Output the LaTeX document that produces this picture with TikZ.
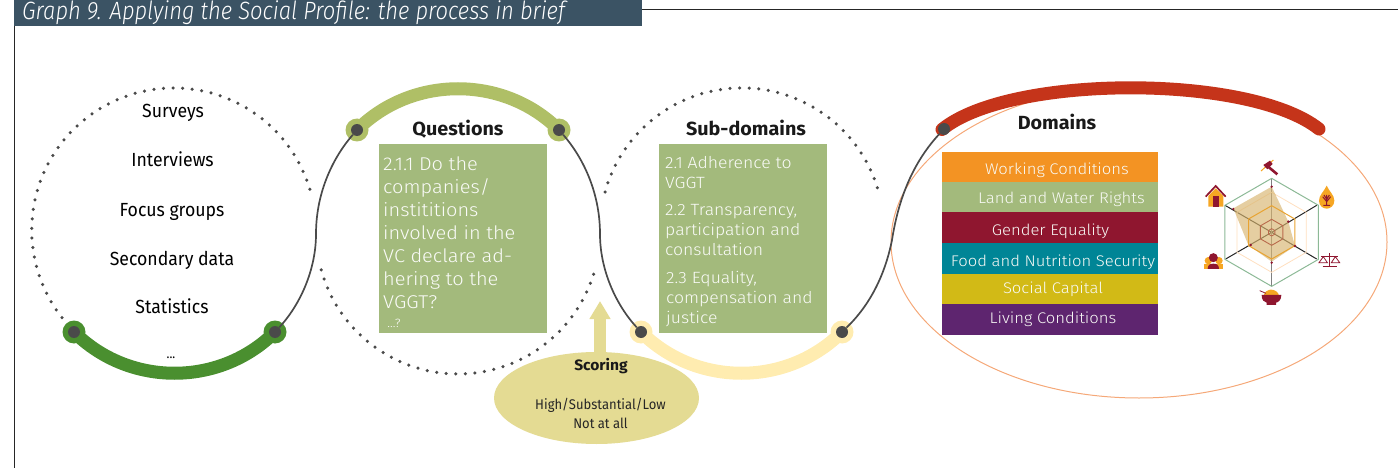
\documentclass[tikz,border=0pt]{standalone}
\usepackage{fontspec}
\setmainfont{Fira Sans}
\newfontfamily\lbl[FakeStretch=0.93]{Fira Sans}
\newfontfamily\boxf[FakeStretch=1.08]{Fira Sans Light}
\newfontfamily\headf[FakeStretch=1.04]{Fira Sans}
\newfontfamily\ttl[FakeStretch=0.88]{Fira Sans Light Italic}
\usetikzlibrary{shapes.geometric,arrows.meta}
\definecolor{ink}{HTML}{4A4A4A}
\definecolor{bar}{HTML}{3B5364}
\definecolor{cgreen}{HTML}{4A8F2F}
\definecolor{colive}{HTML}{AFBF66}
\definecolor{cyell}{HTML}{FFECB0}
\definecolor{cred}{HTML}{C5341A}
\definecolor{boxg}{HTML}{A3BA7C}
\definecolor{score}{HTML}{E4DB93}
\definecolor{peach}{HTML}{F5A878}
\definecolor{wine}{HTML}{8F162F}
\definecolor{amber}{HTML}{F6A623}
\definecolor{rorange}{HTML}{F39323}
\definecolor{rteal}{HTML}{008596}
\definecolor{ryellow}{HTML}{D2BA16}
\definecolor{rpurple}{HTML}{5E256F}
\definecolor{tan}{HTML}{D7B46E}
\definecolor{hexg}{HTML}{8CB996}
\definecolor{hexo}{HTML}{E8A332}
\definecolor{hexb}{HTML}{B9694B}
\tikzset{
  x=1pt,y=-1pt,
  hub/.style={circle,fill=ink,inner sep=0pt,minimum size=12pt},
  halo/.style={circle,inner sep=0pt,minimum size=23pt},
  band/.style={line width=13pt},
  link/.style={draw=ink,line width=1.7pt},
  dots/.style={draw=ink,line width=3.5pt,line cap=round,dash pattern=on 0pt off 9.6pt},
  srctext/.style={font=\lbl\fontsize{19}{19}\selectfont,text=black,inner sep=0pt,anchor=base},
  head/.style={font=\headf\bfseries\fontsize{19}{19}\selectfont,text=black!90,inner sep=0pt},
  panel/.style={fill=boxg,inner sep=0pt,anchor=north west},
  qtext/.style={font=\boxf\fontsize{18.5}{23}\selectfont,text=white!95!boxg,inner sep=0pt,align=left,anchor=north west},
  stext/.style={font=\boxf\fontsize{16.3}{20.2}\selectfont,text=white!95!boxg,inner sep=0pt,align=left,anchor=north west},
  row/.style={inner sep=0pt,minimum width=216pt,anchor=north west},
  rowtext/.style={font=\boxf\fontsize{15.4}{15.4}\selectfont,text=white!93!boxg,inner sep=0pt},
}
\begin{document}
\begin{tikzpicture}
\useasboundingbox (0,0) rectangle (1398,468);
% frame
\node[fill=bar,inner sep=0pt,minimum width=628pt,minimum height=26pt,anchor=north west] (title) at (14,0) {};
\node[font=\ttl\fontsize{25}{25}\selectfont,text=white,inner sep=0pt,anchor=base west] (titletext) at (22,20) {Graph 9. Applying the Social Profile: the process in brief};
\coordinate (tr) at (1398,9.5);
\coordinate (bl) at (14.5,468);
\draw[line width=1pt,black!85] (title.east |- tr) -- (tr);
\draw[line width=1pt,black!85] (bl |- title.south) -- (bl);
% dotted arcs
\draw[dots] (62,317.6) arc[start angle=141.9,end angle=344.6,radius=142];
\draw[dots] (321.2,269.9) arc[start angle=164.5,end angle=15.5,radius=142];
\draw[dots] (605,192) arc[start angle=195.5,end angle=344.5,radius=142];
% domain ellipse
\draw[peach,line width=1pt] (1139,242) ellipse[x radius=248,y radius=156];
% hubs
\node[halo,fill=cgreen] (ga) at (74,332) {};
\node[halo,fill=cgreen] (gb) at (275,332) {};
\node[halo,fill=colive] (oa) at (357,130) {};
\node[halo,fill=colive] (ob) at (559,130) {};
\node[halo,fill=cyell] (ya) at (641,332) {};
\node[halo,fill=cyell] (yb) at (842,332) {};
% bands
\draw[band,cgreen] (ga.center) .. controls (129,387) and (220,387) .. (gb.center);
\draw[band,colive] (oa.center) .. controls (412,75) and (504,75) .. (ob.center);
\draw[band,cyell] (ya.center) .. controls (696,387) and (787,387) .. (yb.center);
\coordinate (ra) at (942,129.5);
\coordinate (rb) at (1319,129);
\draw[band,cred,line cap=round] (ra) .. controls (1010,74) and (1250,74) .. (rb);
% links
\coordinate (la) at (316,234);
\coordinate (lb) at (600,234);
\coordinate (lc) at (892,240);
\node[hub] (gbh) at (gb.center) {};
\node[hub] (gah) at (ga.center) {};
\node[hub] (oah) at (oa.center) {};
\node[hub] (obh) at (ob.center) {};
\node[hub] (yah) at (ya.center) {};
\node[hub] (ybh) at (yb.center) {};
\node[hub] (rah) at (944,129) {};
\draw[link] (gbh) .. controls (300,305) and (316,270) .. (la) .. controls (316,190) and (335,155) .. (oah);
\draw[link] (obh) .. controls (581,155) and (600,190) .. (lb) .. controls (600,270) and (616,305) .. (yah);
\draw[link] (ybh) .. controls (870,305) and (885,275) .. (lc) .. controls (899,195) and (915,160) .. (rah);
% sources
\node[srctext] (s1) at (173,118) {Surveys};
\node[srctext] (s2) at (172.5,167) {Interviews};
\node[srctext] (s3) at (172,216) {Focus groups};
\node[srctext] (s4) at (172,265) {Secondary data};
\node[srctext] (s5) at (172,313) {Statistics};
\node[font=\lbl\fontsize{13}{13}\selectfont,inner sep=0pt] (s6) at (171,358) {...};
% questions
\node[head] (hq) at (458,129) {Questions};
\node[panel,minimum width=168pt,minimum height=189pt] (qbox) at (378.5,144) {};
\node[qtext] (qt) at (383,156.5) {2.1.1 Do the\\companies/\\instititions\\involved in the\\VC declare ad-\\hering to the\\VGGT?};
\node[font=\boxf\fontsize{12}{12}\selectfont,text=white,inner sep=0pt] (qm) at (394,323) {...?};
% subdomains
\node[head] (hs) at (746,128) {Sub-domains};
\node[panel,minimum width=168pt,minimum height=189pt] (sbox) at (659,144) {};
\node[stext] (st1) at (665,156) {2.1 Adherence to\\VGGT};
\node[stext] (st2) at (665,204) {2.2 Transparency,\\participation and\\consultation};
\node[stext] (st3) at (666,271) {2.3 Equality,\\compensation and\\justice};
% scoring
\node[ellipse,fill=score,inner sep=0pt,minimum width=205pt,minimum height=92pt] (scoring) at (596.5,398) {};
\coordinate (tip) at (600,301);
\draw[score,line width=12pt,-{Triangle[width=20pt,length=18pt]}] (tip |- scoring.north) ++(0,3) -- (tip);
\node[font=\headf\bfseries\fontsize{15}{15}\selectfont,text=black!90,inner sep=0pt] (sc1) at (601,366) {Scoring};
\node[font=\lbl\fontsize{14}{19}\selectfont,text=black!85,inner sep=0pt,align=center] (sc2) at (600.5,413.5) {High/Substantial/Low\\Not at all};
% domains
\node[head] (hd) at (1057,122) {Domains};
\node[row,fill=rorange,minimum height=30pt] (r1) at (942,152) {};
\node[row,fill=boxg,minimum height=30.5pt] (r2) at (942,181.7) {};
\node[row,fill=wine,minimum height=31pt] (r3) at (942,212) {};
\node[row,fill=rteal,minimum height=31pt] (r4) at (942,243) {};
\node[row,fill=ryellow,minimum height=30pt] (r5) at (942,274) {};
\node[row,fill=rpurple,minimum height=31pt] (r6) at (942,304) {};
\node[rowtext] (t1) at (1057,170) {Working Conditions};
\node[rowtext] (t2) at (1061.5,199) {Land and Water Rights};
\node[rowtext] (t3) at (1050.5,231) {Gender Equality};
\node[rowtext] (t4) at (1053,262) {Food and Nutrition Security};
\node[rowtext] (t5) at (1053,289) {Social Capital};
\node[rowtext] (t6) at (1053,319) {Living Conditions};
% radar
\begin{scope}[shift={(1180,140)},scale=1/3]
 \def\hexring#1{(275,277-#1) -- (275+0.866*#1,277-0.5*#1) -- (275+0.866*#1,277+0.5*#1) -- (275,277+#1) -- (275-0.866*#1,277+0.5*#1) -- (275-0.866*#1,277-0.5*#1) -- cycle}
 \draw[black!85,line width=1pt] (275,277) -- (135,196) (275,277) -- (410,196) (275,277) -- (410,357) (275,277) -- (137,357);
 \draw[black!50,line width=1.6pt] (275,115) -- (275,438);
 \draw[orange!25,line width=.8pt] \hexring{120};
 \fill[tan,opacity=.65] (275,140) -- (325,245) -- (345,318) -- (275,365) -- (205,315) -- (160,205) -- cycle;
 \draw[hexg,line width=1pt] \hexring{162};
 \draw[hexo,line width=1pt] \hexring{80};
 \draw[hexb,line width=.9pt] \hexring{39};
 \draw[hexb,line width=.8pt] \hexring{11};
 \fill[wine] (275,140) circle[radius=4] (325,245) circle[radius=4] (345,318) circle[radius=4] (275,368) circle[radius=4] (212,315) circle[radius=4] (160,207) circle[radius=4];
 % house
 \fill[amber] (85,168) -- (107,145) -- (130,168) -- (130,200) -- (85,200) -- cycle;
 \draw[wine,line width=1.7pt] (77,170) -- (107,138) -- (137,170);
 \fill[wine] (99,168) rectangle (116,200);
 % pick
 \draw[amber,line width=1pt] (243,93) -- (280,60);
 \draw[wine,line width=2.6pt] (262,78) -- (292,103);
 \fill[wine] (250,75) -- (270,62) -- (278,72) -- (262,88) -- cycle;
 % drop
 \fill[amber] (440,137) .. controls (432,155) and (417,165) .. (417,182) .. controls (417,198) and (430,206) .. (440,206) .. controls (450,206) and (463,198) .. (463,182) .. controls (463,165) and (448,155) .. (440,137) -- cycle;
 \draw[wine,line width=1pt] (440,165) -- (440,196) (430,196) -- (450,196) (440,185) -- (428,170) (440,185) -- (452,170) (440,178) -- (432,165) (440,178) -- (448,165);
 % scales
 \draw[wine,line width=1pt] (448,340) -- (448,378) (424,350) -- (474,350) (428,381) -- (470,381);
 \draw[wine,line width=.8pt] (417,368) -- (430,350) -- (442,368) -- cycle (454,368) -- (466,350) -- (479,368) -- cycle;
 % person
 \fill[amber] (85,362) circle[radius=11] (117,362) circle[radius=11];
 \fill[amber] (73,387) rectangle (129,372);
 \fill[wine] (100,353) circle[radius=13.5];
 \fill[wine] (83,387) .. controls (83,375) and (90,371) .. (100,371) .. controls (110,371) and (117,375) .. (117,387) -- cycle;
 % bowl
 \fill[amber] (251,466) .. controls (254,455) and (264,449) .. (273,449) .. controls (284,449) and (294,455) .. (297,466) -- cycle;
 \fill[wine] (245,465) -- (304,465) .. controls (304,480) and (295,487) .. (288,488) -- (288,495) -- (260,495) -- (260,488) .. controls (252,487) and (245,480) .. (245,465) -- cycle;
 \draw[wine,line width=.8pt] (239,452) -- (258,460);
\end{scope}
\end{tikzpicture}
\end{document}
